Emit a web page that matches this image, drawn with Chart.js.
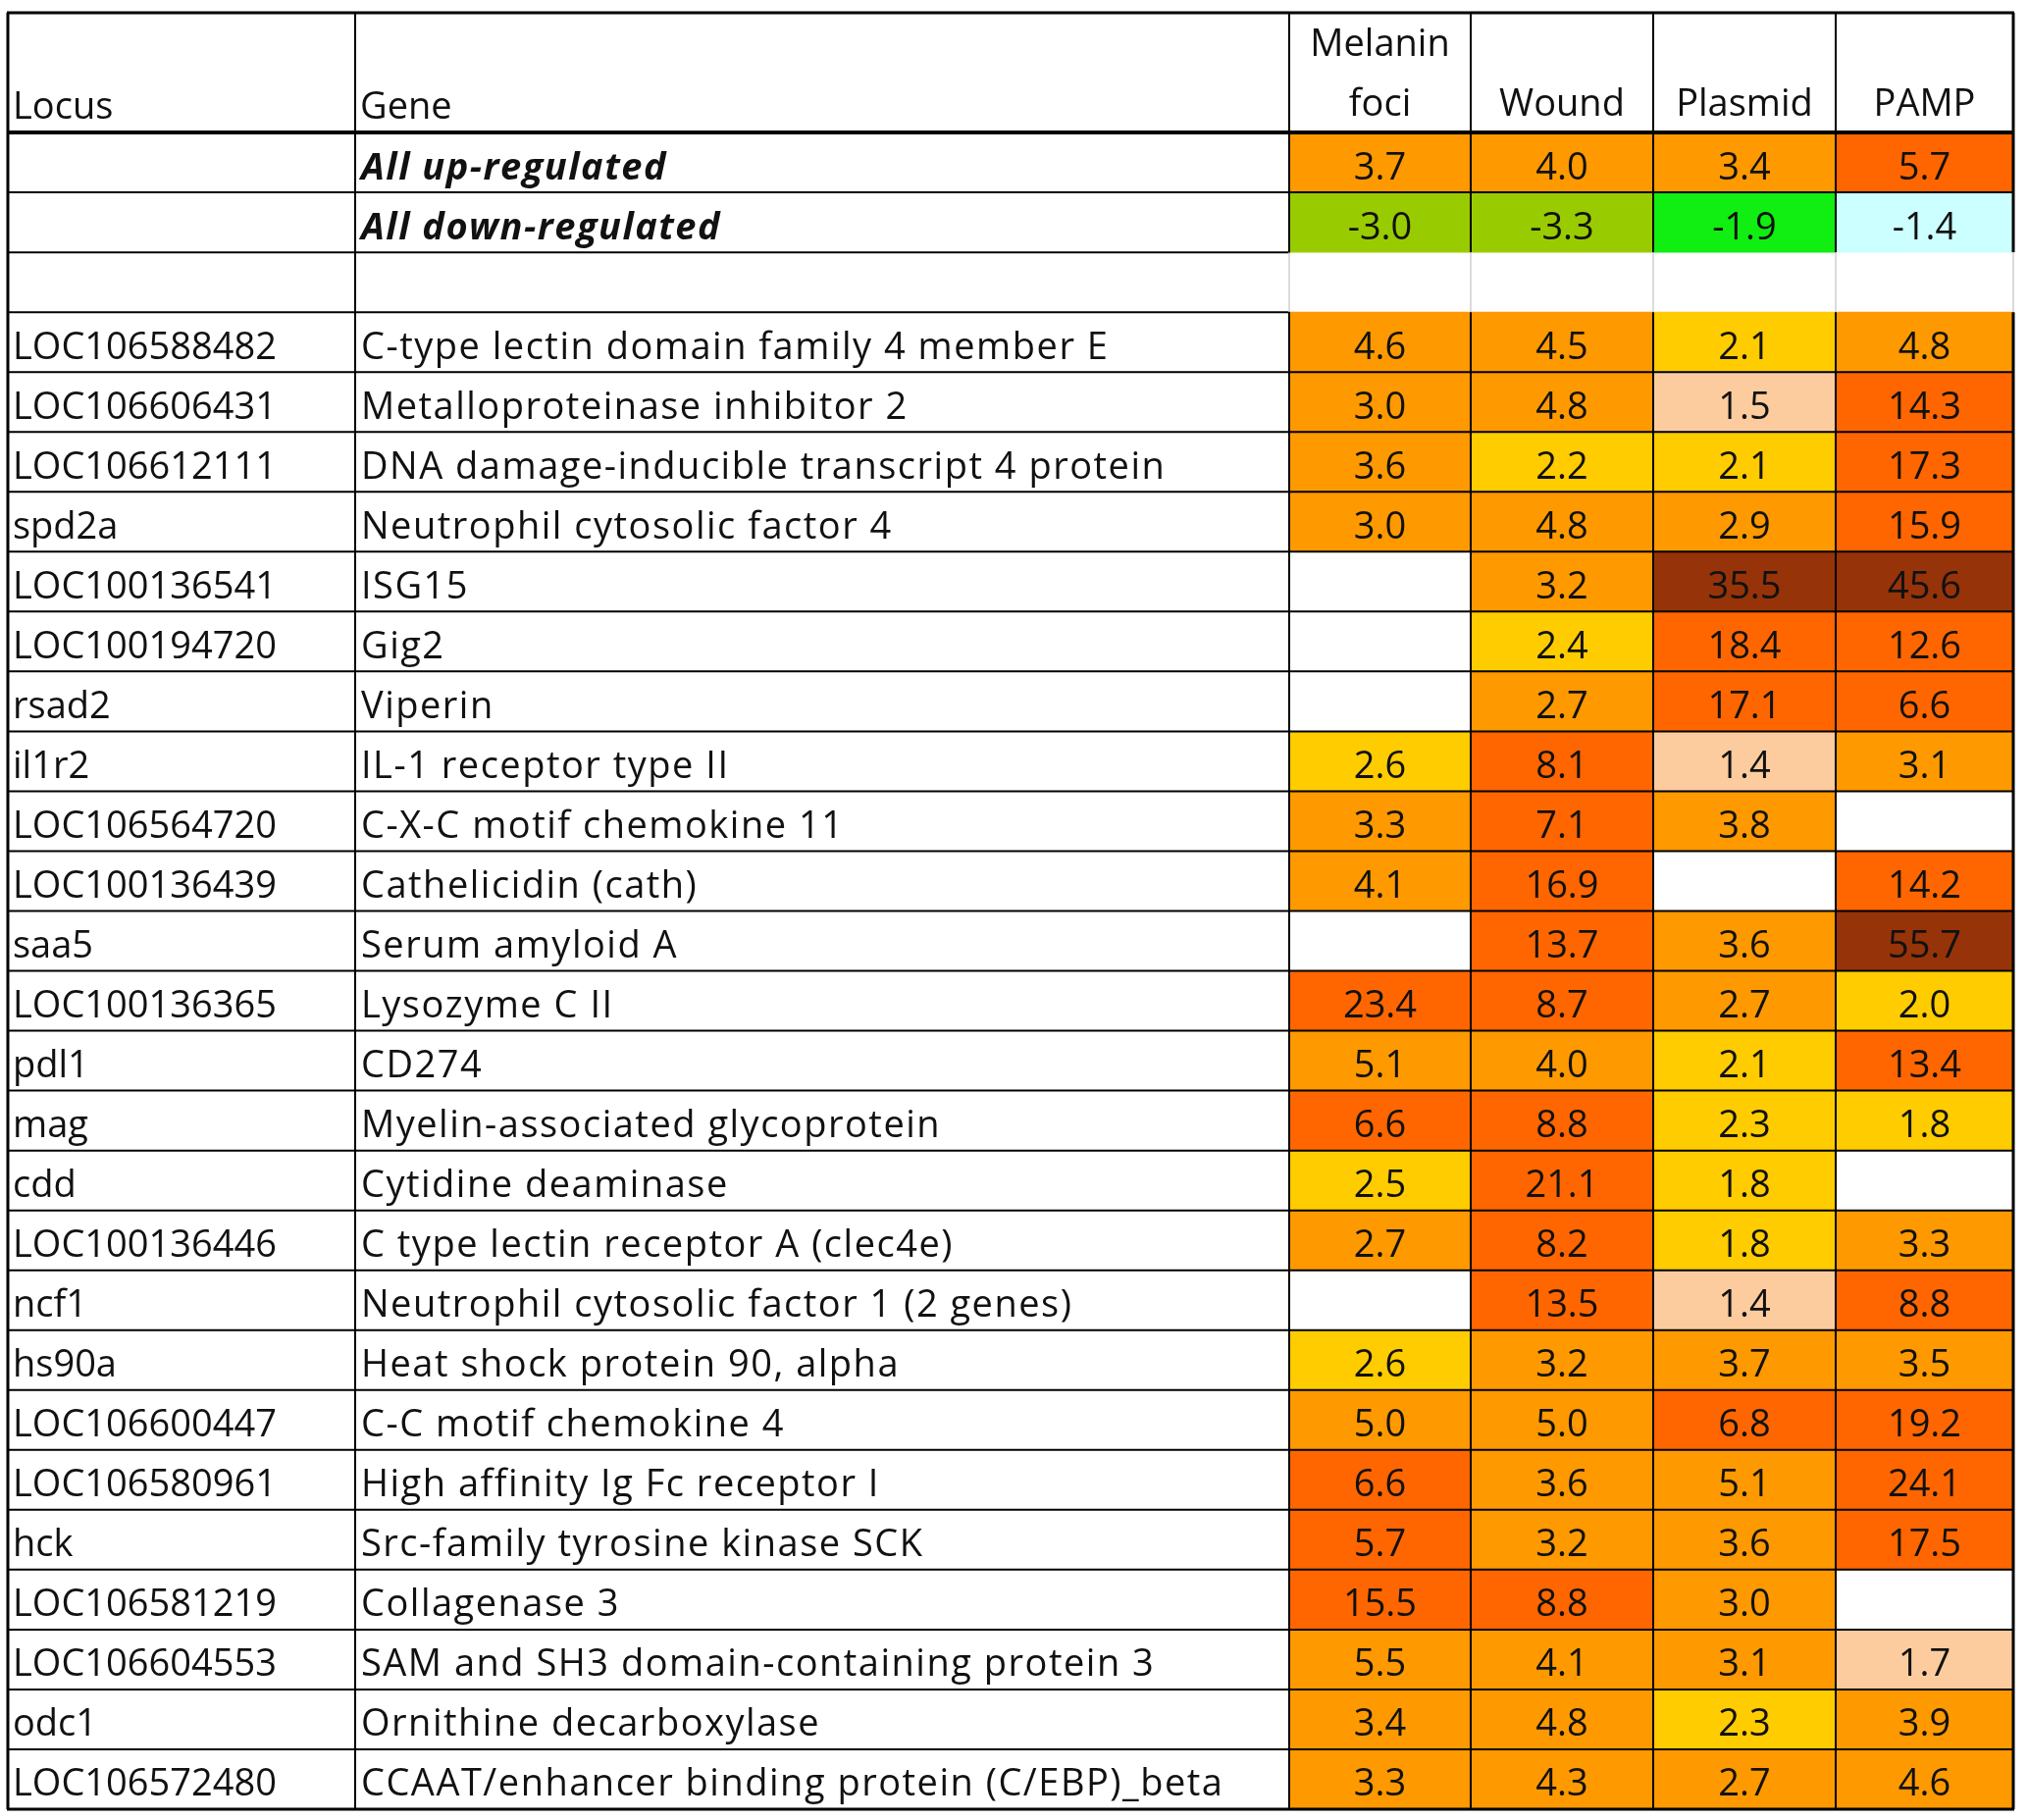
<!DOCTYPE html>
<html>
<head>
<meta charset="utf-8">
<title>Expression table</title>
<script src="https://cdn.jsdelivr.net/npm/chart.js@4.4.1/dist/chart.umd.min.js"></script>
<style>
  body { margin: 0; background: #fff; }
  canvas { display: block; }
</style>
</head>
<body>
<canvas id="myChart" width="2067" height="1855" style="width:2067px;height:1855px"></canvas>
<script>
'use strict';
// column headings (\n = line break in the header cell)
let columnNames = ['Locus', 'Gene', 'Melanin\nfoci', 'Wound', 'Plasmid', 'PAMP'];

// two summary rows, one empty spacer row, then the genes
let loci = ['', '', '', 'LOC106588482', 'LOC106606431', 'LOC106612111', 'spd2a', 'LOC100136541', 'LOC100194720', 'rsad2', 'il1r2', 'LOC106564720', 'LOC100136439', 'saa5', 'LOC100136365', 'pdl1', 'mag', 'cdd', 'LOC100136446', 'ncf1', 'hs90a', 'LOC106600447', 'LOC106580961', 'hck', 'LOC106581219', 'LOC106604553', 'odc1', 'LOC106572480'];
let genes = ['All up-regulated', 'All down-regulated', '', 'C-type lectin domain family 4 member E', 'Metalloproteinase inhibitor 2', 'DNA damage-inducible transcript 4 protein', 'Neutrophil cytosolic factor 4', 'ISG15', 'Gig2', 'Viperin', 'IL-1 receptor type II', 'C-X-C motif chemokine 11', 'Cathelicidin (cath)', 'Serum amyloid A', 'Lysozyme C II', 'CD274', 'Myelin-associated glycoprotein', 'Cytidine deaminase', 'C type lectin receptor A (clec4e)', 'Neutrophil cytosolic factor 1 (2 genes)', 'Heat shock protein 90, alpha', 'C-C motif chemokine 4', 'High affinity Ig Fc receptor I', 'Src-family tyrosine kinase SCK', 'Collagenase 3', 'SAM and SH3 domain-containing protein 3', 'Ornithine decarboxylase', 'CCAAT/enhancer binding protein (C/EBP)_beta'];

// fold change values, null = blank cell
let melaninFoci = [3.7, -3.0, null, 4.6, 3.0, 3.6, 3.0, null, null, null, 2.6, 3.3, 4.1, null, 23.4, 5.1, 6.6, 2.5, 2.7, null, 2.6, 5.0, 6.6, 5.7, 15.5, 5.5, 3.4, 3.3];
let wound = [4.0, -3.3, null, 4.5, 4.8, 2.2, 4.8, 3.2, 2.4, 2.7, 8.1, 7.1, 16.9, 13.7, 8.7, 4.0, 8.8, 21.1, 8.2, 13.5, 3.2, 5.0, 3.6, 3.2, 8.8, 4.1, 4.8, 4.3];
let plasmid = [3.4, -1.9, null, 2.1, 1.5, 2.1, 2.9, 35.5, 18.4, 17.1, 1.4, 3.8, null, 3.6, 2.7, 2.1, 2.3, 1.8, 1.8, 1.4, 3.7, 6.8, 5.1, 3.6, 3.0, 3.1, 2.3, 2.7];
let pamp = [5.7, -1.4, null, 4.8, 14.3, 17.3, 15.9, 45.6, 12.6, 6.6, 3.1, null, 14.2, 55.7, 2.0, 13.4, 1.8, null, 3.3, 8.8, 3.5, 19.2, 24.1, 17.5, null, 1.7, 3.9, 4.6];

let boldRows = [0, 1];
let spacerRow = 2;

// layout
let colWidths = [354, 952, 185, 186, 186, 181];
let headerRows = 2;
let fontName = '"Open Sans"';
let fontSize = 38;

let colEdges = [0];
for (let i = 0; i < colWidths.length; i++) {
  colEdges.push(colEdges[i] + colWidths[i]);
}
let totalRows = headerRows + loci.length;

function cellColour(v) {
  if (v >= 30) return '#963309';
  if (v >= 5.6) return '#ff6600';
  if (v >= 2.7) return '#ff9900';
  if (v >= 1.8) return '#ffcc00';
  if (v > 0) return '#fccc9f';
  if (v <= -2.5) return '#99cc00';
  if (v <= -1.5) return '#11ee11';
  return '#ccffff';
}

let valueColumns = [melaninFoci, wound, plasmid, pamp];
let datasets = [];
for (let c = 0; c < valueColumns.length; c++) {
  let vals = valueColumns[c];
  datasets.push({
    label: columnNames[c + 2],
    data: vals.map((v, i) => ({
      y: headerRows + i + 0.5,
      x: v === null ? null : [colEdges[c + 2], colEdges[c + 3]]
    })),
    backgroundColor: vals.map(v => v === null ? 'rgba(0,0,0,0)' : cellColour(v)),
    grouped: false,
    categoryPercentage: 1,
    barPercentage: 1,
    borderWidth: 0
  });
}

let tablePlugin = {
  id: 'tableGrid',
  afterDatasetsDraw(chart) {
    let ctx = chart.ctx;
    let px = v => chart.scales.x.getPixelForValue(v);
    let py = v => chart.scales.y.getPixelForValue(v);
    let headY = row => py(row + 0.5) + 13;
    let textY = row => py(row + 0.5) + 17;

    ctx.save();
    ctx.fillStyle = '#111';

    // header texts, bottom aligned
    for (let c = 0; c < columnNames.length; c++) {
      let lines = columnNames[c].split('\n');
      ctx.font = fontSize + 'px ' + fontName;
      for (let l = 0; l < lines.length; l++) {
        let row = headerRows - lines.length + l;
        if (c < 2) {
          ctx.textAlign = 'left';
          ctx.fillText(lines[l], px(colEdges[c]) + 5, headY(row) + 3);
        } else {
          ctx.textAlign = 'center';
          ctx.fillText(lines[l], px((colEdges[c] + colEdges[c + 1]) / 2), headY(row));
        }
      }
    }

    // locus and gene columns
    ctx.textAlign = 'left';
    for (let i = 0; i < loci.length; i++) {
      let row = headerRows + i;
      ctx.font = fontSize + 'px ' + fontName;
      ctx.letterSpacing = '0px';
      ctx.fillText(loci[i], px(colEdges[0]) + 5, textY(row));
      if (boldRows.includes(i)) ctx.font = 'italic bold ' + fontSize + 'px ' + fontName;
      ctx.letterSpacing = '1.5px';
      ctx.fillText(genes[i], px(colEdges[1]) + 6, textY(row));
    }
    ctx.letterSpacing = '0px';

    // values
    ctx.font = fontSize + 'px ' + fontName;
    ctx.textAlign = 'center';
    for (let c = 0; c < valueColumns.length; c++) {
      let cx = px((colEdges[c + 2] + colEdges[c + 3]) / 2);
      valueColumns[c].forEach((v, i) => {
        if (v === null) return;
        ctx.fillText(v.toFixed(1), cx, textY(headerRows + i));
      });
    }

    // grid lines
    let spTop = headerRows + spacerRow;
    let spBottom = spTop + 1;
    function hLine(row, x0, x1, w, colour) {
      ctx.beginPath();
      ctx.strokeStyle = colour;
      ctx.lineWidth = w;
      ctx.moveTo(px(x0) - 1, py(row));
      ctx.lineTo(px(x1) + 1, py(row));
      ctx.stroke();
    }
    function vLine(x, r0, r1, w, colour) {
      ctx.beginPath();
      ctx.strokeStyle = colour;
      ctx.lineWidth = w;
      ctx.moveTo(px(x), py(r0));
      ctx.lineTo(px(x), py(r1));
      ctx.stroke();
    }
    let last = colEdges.length - 1;
    for (let r = 0; r <= totalRows; r++) {
      if (r > 0 && r < headerRows) continue;
      let w = (r === 0 || r === totalRows) ? 3 : (r === headerRows ? 4 : 2);
      if (r === spTop || r === spBottom) {
        hLine(r, colEdges[0], colEdges[2], w, '#000');
      } else {
        hLine(r, colEdges[0], colEdges[last], w, '#000');
      }
    }
    for (let c = 0; c <= last; c++) {
      let w = (c === 0 || c === last) ? 3 : 2;
      if (c >= 2) {
        vLine(colEdges[c], 0, spTop, w, '#000');
        vLine(colEdges[c], spTop, spBottom, 1.5, '#cfcfcf');
        vLine(colEdges[c], spBottom, totalRows, w, '#000');
      } else {
        vLine(colEdges[c], 0, totalRows, w, '#000');
      }
    }
    ctx.restore();
  }
};

let ctx = document.getElementById('myChart').getContext('2d');
let myChart = new Chart(ctx, {
  type: 'bar',
  data: { datasets: datasets },
  options: {
    indexAxis: 'y',
    responsive: false,
    animation: false,
    devicePixelRatio: 1,
    layout: { padding: { left: 8, right: 15, top: 13, bottom: 11 } },
    plugins: {
      legend: { display: false },
      tooltip: { enabled: false }
    },
    scales: {
      x: { type: 'linear', min: 0, max: colEdges[colEdges.length - 1], display: false, offset: false },
      y: { type: 'linear', min: 0, max: totalRows, reverse: true, display: false, offset: false, ticks: { stepSize: 1 } }
    }
  },
  plugins: [tablePlugin]
});
</script>
</body>
</html>
